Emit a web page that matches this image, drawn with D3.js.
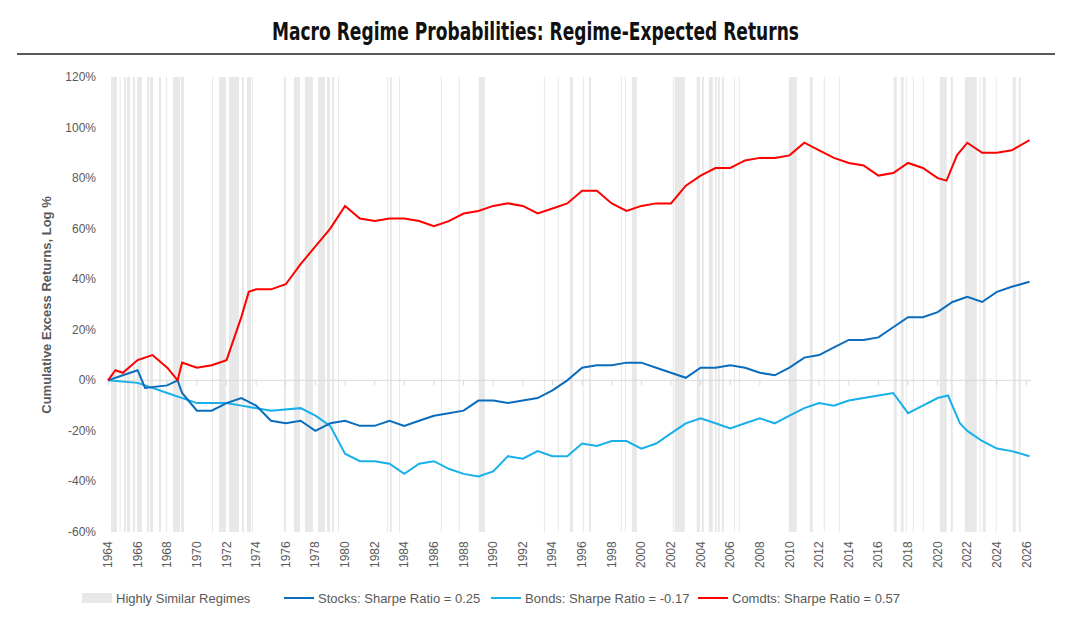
<!DOCTYPE html>
<html><head><meta charset="utf-8">
<script src="https://cdn.jsdelivr.net/npm/d3@7"></script>
<style>
body{margin:0;background:#fff;}
text{font-family:"Liberation Sans",Arial,sans-serif;}
</style></head>
<body><svg id="chart" width="1071" height="642"></svg>
<script>
// regime bands (decimal years)
var bands = [[1964.2,1964.34],[1964.34,1964.6],[1964.78,1964.84],[1965.08,1965.21],[1965.28,1965.48],[1965.69,1965.82],[1965.96,1966.29],
 [1966.63,1966.77],[1966.83,1967.04],[1967.44,1967.58],[1967.91,1967.98],[1968.39,1968.86],[1968.93,1969.13],[1971.02,1971.09],
 [1971.49,1971.96],[1972.16,1972.84],[1973.04,1973.18],[1973.38,1973.65],[1973.72,1973.78],[1975.88,1976.01],[1976.55,1976.96],
 [1977.29,1977.83],[1978.17,1978.64],[1978.78,1978.98],[1979.11,1979.25],[1979.52,1979.59],[1982.83,1982.89],[1983.03,1983.16],
 [1983.64,1983.7],[1986.47,1986.54],[1987.68,1987.75],[1989.03,1989.44],[1993.42,1993.49],[1994.36,1994.43],[1995.17,1995.38],
 [1996.05,1996.12],[1996.46,1996.59],[1998.62,1998.68],[1998.89,1998.95],[1999.36,1999.7],[2002.12,2002.19],[2002.26,2002.93],
 [2003.74,2003.95],[2004.08,2004.22],[2004.55,2004.82],[2004.96,2005.09],[2005.16,2005.3],[2005.43,2005.57],[2006.25,2006.31],
 [2006.58,2006.65],[2009.95,2010.49],[2011.37,2011.57],[2012.31,2012.38],[2013.33,2013.39],[2017.04,2017.24],[2017.51,2017.71],
 [2017.85,2017.91],[2018.32,2018.39],[2019,2019.06],[2020.14,2020.61],[2020.88,2021.02],[2021.83,2022.64],[2022.84,2022.91],
 [2023.04,2023.25],[2023.92,2023.99],[2025.07,2025.27],[2025.47,2025.61]];

var stockYears = [1964,1965,1966,1966.5,1968,1968.7,1969,1970,1971,1972,1973,1974,1975,1976,1977,1978,1979,1980,1981,1982,1983,1984,1985,1986,1987,1988,1989,1990,1991,1992,1993,1994,1995,1996,1997,1998,1999,2000,2001,2002,2003,2004,2005,2006,2007,2008,2009,2010,2011,2012,2013,2014,2015,2016,2017,2018,2019,2020,2021,2022,2023,2024,2025,2026.2];
var stockVals = [0,2,4,-3,-2,0,-5,-12,-12,-9,-7,-10,-16,-17,-16,-20,-17,-16,-18,-18,-16,-18,-16,-14,-13,-12,-8,-8,-9,-8,-7,-4,0,5,6,6,7,7,5,3,1,5,5,6,5,3,2,5,9,10,13,16,16,17,21,25,25,27,31,33,31,35,37,39];

var bondYears = [1964,1966,1968,1970,1972,1973,1975,1977,1978,1979,1980,1981,1982,1983,1984,1985,1986,1987,1988,1989,1990,1991,1992,1993,1994,1995,1996,1997,1998,1999,2000,2001,2002,2003,2004,2005,2006,2007,2008,2009,2010,2011,2012,2013,2014,2015,2016,2017,2018,2019,2020,2020.7,2021.5,2022,2023,2024,2025,2026.2];
var bondVals = [0,-1,-5,-9,-9,-10,-12,-11,-14,-18,-29,-32,-32,-33,-37,-33,-32,-35,-37,-38,-36,-30,-31,-28,-30,-30,-25,-26,-24,-24,-27,-25,-21,-17,-15,-17,-19,-17,-15,-17,-14,-11,-9,-10,-8,-7,-6,-5,-13,-10,-7,-6,-17,-20,-24,-27,-28,-30];

var comYears = [1964,1964.5,1965,1966,1967,1968,1968.7,1969,1970,1971,1972,1973,1973.5,1974,1975,1976,1977,1978,1979,1980,1981,1982,1983,1984,1985,1986,1987,1988,1989,1990,1991,1992,1993,1994,1995,1996,1997,1998,1999,2000,2001,2002,2003,2004,2005,2006,2007,2008,2009,2010,2011,2012,2013,2014,2015,2016,2017,2018,2019,2020,2020.6,2021.3,2022,2023,2024,2025,2026.2];
var comVals = [0,4,3,8,10,5,0,7,5,6,8,25,35,36,36,38,46,53,60,69,64,63,64,64,63,61,63,66,67,69,70,69,66,68,70,75,75,70,67,69,70,70,77,81,84,84,87,88,88,89,94,91,88,86,85,81,82,86,84,80,79,89,94,90,90,91,95];

var yTicks = [-60,-40,-20,0,20,40,60,80,100,120];
var xTicks = d3.range(1964, 2027, 2);

var svg = d3.select("#chart");
var x = d3.scaleLinear().domain([1964, 2026.3]).range([108, 1031]);
var y = d3.scaleLinear().domain([-60, 120]).range([532, 77]);

svg.append("text").attr("x", 272).attr("y", 40)
  .attr("textLength", 527).attr("lengthAdjust", "spacingAndGlyphs")
  .style("font-family", "'DejaVu Sans',sans-serif")
  .style("font-weight", "bold").style("font-size", "25px").attr("fill", "#111")
  .text("Macro Regime Probabilities: Regime-Expected Returns");
svg.append("line").attr("x1", 17).attr("x2", 1055).attr("y1", 54).attr("y2", 54).attr("stroke", "#222").attr("stroke-width", 1.5);

svg.append("g").selectAll("rect").data(bands).enter().append("rect")
  .attr("x", d => x(d[0])).attr("width", d => Math.max(1, x(d[1]) - x(d[0])))
  .attr("y", y(120)).attr("height", y(-60) - y(120)).attr("fill", "#e8e8e8");

// zero axis line with year ticks
svg.append("line").attr("x1", x(1964)).attr("x2", x(2026.3)).attr("y1", y(0)).attr("y2", y(0)).attr("stroke", "#d9d9d9");
svg.append("g").selectAll("line").data(xTicks).enter().append("line")
  .attr("x1", d => x(d)).attr("x2", d => x(d)).attr("y1", y(0)).attr("y2", y(0) + 5).attr("stroke", "#d9d9d9");

svg.append("g").selectAll("text").data(yTicks).enter().append("text")
  .attr("x", 96).attr("y", d => y(d) + 4).attr("text-anchor", "end")
  .style("font-size", "12px").attr("fill", "#595959").text(d => d + "%");

svg.append("g").selectAll("text").data(xTicks).enter().append("text")
  .attr("transform", d => "translate(" + (x(d) + 4) + ",568) rotate(-90)")
  .style("font-size", "12px").attr("fill", "#595959").text(d => d);

svg.append("text").attr("transform", "translate(51,305) rotate(-90)").attr("text-anchor", "middle")
  .style("font-size", "13px").style("font-weight", "bold").attr("fill", "#595959").text("Cumulative Excess Returns, Log %");

var line = d3.line().x(d => x(d[0])).y(d => y(d[1]));
function draw(years, vals, color) {
  svg.append("path").datum(d3.zip(years, vals)).attr("d", line)
    .attr("fill", "none").attr("stroke", color).attr("stroke-width", 2);
}
draw(bondYears, bondVals, "#17b0ea");
draw(stockYears, stockVals, "#0a6cbc");
draw(comYears, comVals, "#ff0000");

var legend = [["Highly Similar Regimes", "#e8e8e8", 82, "rect"], ["Stocks: Sharpe Ratio = 0.25", "#0a6cbc", 284, "line"],
  ["Bonds: Sharpe Ratio = -0.17", "#17b0ea", 491, "line"], ["Comdts: Sharpe Ratio = 0.57", "#ff0000", 698, "line"]];
legend.forEach(function(l) {
  if (l[3] === "rect") svg.append("rect").attr("x", l[2]).attr("y", 593).attr("width", 30).attr("height", 10).attr("fill", l[1]);
  else svg.append("line").attr("x1", l[2]).attr("x2", l[2] + 30).attr("y1", 598).attr("y2", 598).attr("stroke", l[1]).attr("stroke-width", 2);
  svg.append("text").attr("x", l[2] + 34).attr("y", 603).style("font-size", "13px").attr("fill", "#595959").text(l[0]);
});
</script></body></html>
